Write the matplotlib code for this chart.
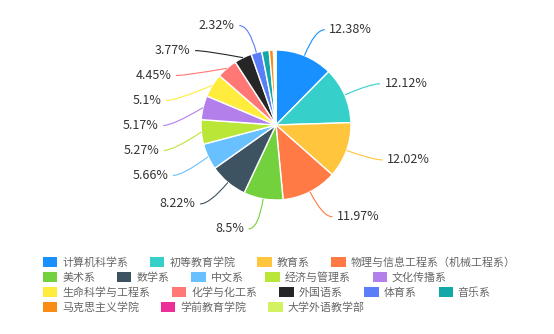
import numpy as np
import matplotlib
matplotlib.use('Agg')
import matplotlib.pyplot as plt
from matplotlib.path import Path
from matplotlib.patches import PathPatch, Patch

plt.rcParams['font.family'] = ['Noto Sans CJK SC', 'DejaVu Sans']

departments = ['计算机科学系', '初等教育学院', '教育系', '物理与信息工程系（机械工程系）',
               '美术系', '数学系', '中文系', '经济与管理系', '文化传播系',
               '生命科学与工程系', '化学与化工系', '外国语系', '体育系', '音乐系',
               '马克思主义学院', '学前教育学院', '大学外语教学部']
shares = [12.38, 12.12, 12.02, 11.97, 8.5, 8.22, 5.66, 5.27, 5.17, 5.1,
          4.45, 3.77, 2.32, 1.6, 0.9, 0.3, 0.25]
colors = ['#1890ff', '#36cfc9', '#ffc53d', '#ff7a45', '#73d13d', '#3d5361',
          '#69c0ff', '#bae637', '#b37feb', '#ffec3d', '#ff7875', '#262626',
          '#597ef7', '#13a8a8', '#fa8c16', '#eb2f96', '#d3f261']
legend_rows = [4, 5, 5, 3]  # items per legend line

W, H = 554, 334
cx, cy, r = 276, 125, 75  # pie centre / radius in pixels

fig = plt.figure(figsize=(W / 100, H / 100), dpi=100)
ax = fig.add_axes([(cx - r) / W, 1 - (cy + r) / H, 2 * r / W, 2 * r / H])
ax.pie(shares, colors=colors, startangle=90, counterclock=False,
       wedgeprops=dict(edgecolor='white', linewidth=1))
ax.set_xlim(-1, 1)
ax.set_ylim(-1, 1)
ax.axis('off')

# outside labels with guide lines, shifted apart like echarts does
R = 1.373
gap = 0.333
mid = np.cumsum(shares) - np.array(shares) / 2
theta = np.deg2rad(90 - mid / sum(shares) * 360)
labelled = [i for i, v in enumerate(shares) if v >= 2]

for side in (1, -1):
    idx = [i for i in labelled if np.sign(np.cos(theta[i])) == side]
    idx.sort(key=lambda i: -np.sin(theta[i]))
    prev = None
    for i in idx:
        y = R * np.sin(theta[i])
        if prev is not None:
            y = min(y, prev - gap)
        prev = y
        x = side * max(np.sqrt(max(R ** 2 - y ** 2, 0)), abs(R * np.cos(theta[i])))
        ex, ey = np.cos(theta[i]), np.sin(theta[i])
        tx = x + side * 0.13
        path = Path([(ex, ey), (x, y), (tx, y)], [Path.MOVETO, Path.CURVE3, Path.CURVE3])
        ax.add_patch(PathPatch(path, fill=False, edgecolor=colors[i], lw=0.8, clip_on=False))
        ax.text(tx + side * 0.06, y, f'{shares[i]:g}%', ha='left' if side > 0 else 'right',
                va='center', fontsize=9, color='#333333', clip_on=False)

# legend, one flow row at a time
start = 0
for row, n in enumerate(legend_rows):
    hs = [Patch(facecolor=colors[i], edgecolor='none', label=departments[i])
          for i in range(start, start + n)]
    fig.legend(handles=hs, loc='center left', bbox_to_anchor=(43 / W, 1 - (262.5 + 15 * row) / H),
               ncol=n, frameon=False, fontsize=7.9, handlelength=1.3, handleheight=1.0,
               handletextpad=0.45, columnspacing=2.0, borderpad=0, borderaxespad=0,
               labelcolor='#666666')
    start += n

fig.savefig('out.png', dpi=100)
